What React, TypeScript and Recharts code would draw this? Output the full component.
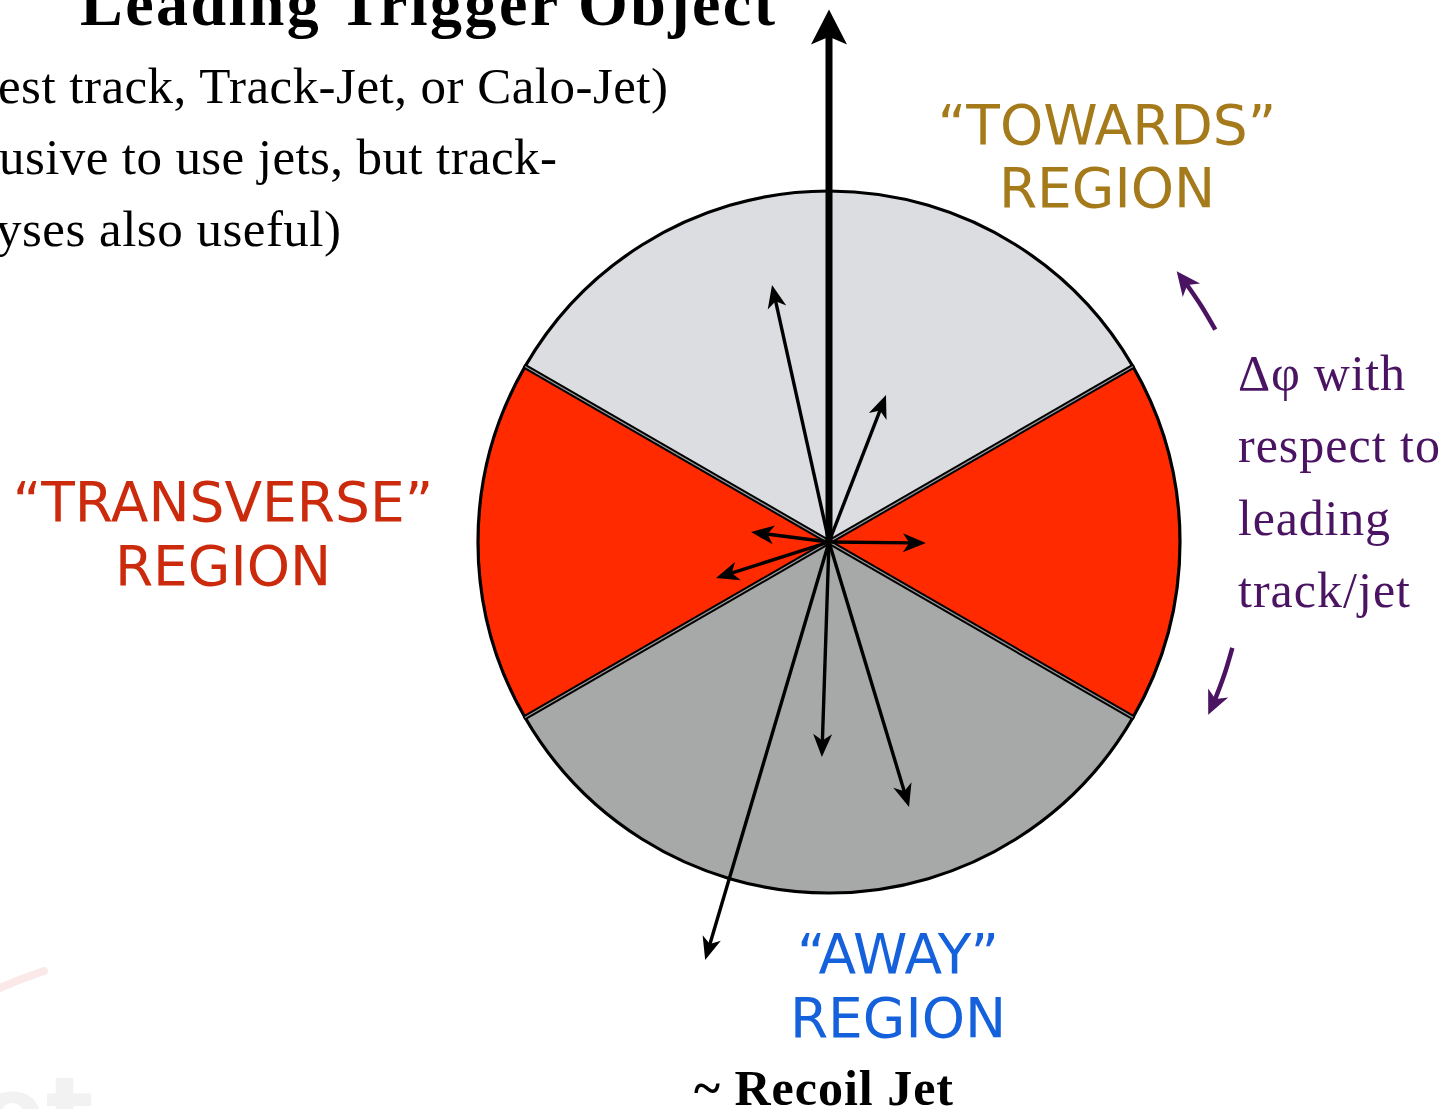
import React from "react";
import { PieChart, Pie, Cell, LineChart, Line, XAxis, YAxis, Customized } from "recharts";

// ---------- data ----------
const regionNames = ["Transverse (right)", "Towards", "Transverse (left)", "Away"];
const regionSpans = [60, 120, 60, 120]; // degrees of azimuth
const regionFills = ["#ff2a00", "#dcdde0", "#ff2a00", "#a6a9a8"];
const regionStartAngle = -30;
const boundaryAngles = [30, 150, 210, 330];

const leadingAngle = 90;
const leadingLength = 1.517; // in units of circle radius
const trackAngles = [102.5, 68.8, 172.7, 197.7, -0.6, 268.1, 286.8, 253.5];
const trackLengths = [0.75, 0.449, 0.224, 0.338, 0.276, 0.613, 0.789, 1.242];

const dphiArcRadii = [1.256, 1.188];
const dphiArcFrom = [28.8, -14.7];
const dphiArcTo = [37.9, -24.5];

const titleText = "Leading Trigger Object";
const noteLines = ["est track, Track-Jet, or Calo-Jet)", "usive to use jets, but track-", "yses also useful)"];
const dphiLines = ["\u0394\u03c6 with", "respect to", "leading", "track/jet"];
const towardsLines = ["\u201cTOWARDS\u201d", "REGION"];
const transverseLines = ["\u201cTRANSVERSE\u201d", "REGION"];
const awayLines = ["\u201cAWAY\u201d", "REGION"];
const recoilText = "~ Recoil Jet";
const watermarkText = "et";

// ---------- layout ----------
const W = 1447;
const H = 1109;
const CX = 829;
const CY = 542;
const R = 351;
const SERIF = "'Liberation Serif', 'Times New Roman', serif";
const SANS = "'DejaVu Sans', Verdana, sans-serif";
const PURPLE = "#4a1462";

const regionData = regionNames.map((name, i) => ({ name, span: regionSpans[i] }));

const polar = (deg: number, r: number) => {
  const a = (deg * Math.PI) / 180;
  return { x: r * Math.cos(a), y: r * Math.sin(a) };
};

function headPath(tx: number, ty: number, angDeg: number, L: number, Wd: number, notch: number) {
  const a = (angDeg * Math.PI) / 180;
  const dx = Math.cos(a);
  const dy = -Math.sin(a);
  const nx = -dy;
  const ny = dx;
  const bx = tx - L * dx;
  const by = ty - L * dy;
  const p1x = bx + (nx * Wd) / 2;
  const p1y = by + (ny * Wd) / 2;
  const p2x = bx - (nx * Wd) / 2;
  const p2y = by - (ny * Wd) / 2;
  const mx = tx - notch * L * dx;
  const my = ty - notch * L * dy;
  return `M${tx},${ty}L${p1x},${p1y}L${mx},${my}L${p2x},${p2y}Z`;
}

const makeHead =
  (angDeg: number, L: number, Wd: number, notch: number, color: string, forward: number, lastIndex: number) =>
  (props: any) => {
    const { cx, cy, index } = props;
    if (index !== lastIndex || cx == null || cy == null) return <g key={`h-${index}`} />;
    const a = (angDeg * Math.PI) / 180;
    const tx = cx + forward * Math.cos(a);
    const ty = cy - forward * Math.sin(a);
    return <path key={`h-${index}`} d={headPath(tx, ty, angDeg, L, Wd, notch)} fill={color} stroke="none" />;
  };

const THIN_L = 23;
const THIN_W = 19;
const THICK_L = 35;
const THICK_W = 36;
const ARC_L = 24;
const ARC_W = 22;

function Annotations() {
  return (
    <g>
      <path d="M-5,990 Q20,979 44,971" stroke="#fbe9e9" strokeWidth={8} fill="none" strokeLinecap="round" />
      <text x={-22} y={1148} fontFamily={SANS} fontWeight="bold" fontSize={100} fill="#f2f2f2">
        {watermarkText}
      </text>
      <text x={80} y={25} fontFamily={SERIF} fontWeight="bold" fontSize={64} fill="#000" textLength={695} lengthAdjust="spacing">
        {titleText}
      </text>
      {noteLines.map((t, i) => (
        <text
          key={t}
          x={[-2, -1, -4][i]}
          y={[103, 174, 246][i]}
          fontFamily={SERIF}
          fontSize={51}
          fill="#000"
          textLength={[670, 558, 345][i]}
          lengthAdjust="spacing"
        >
          {t}
        </text>
      ))}
      {towardsLines.map((t, i) => (
        <text key={"tw" + i} x={1107} y={[144, 207][i]} textAnchor="middle" fontFamily={SANS} fontSize={55} fill="#a57a1b">
          {t}
        </text>
      ))}
      {transverseLines.map((t, i) => (
        <text key={"tr" + i} x={223} y={[521, 585][i]} textAnchor="middle" fontFamily={SANS} fontSize={55} fill="#cc2a0c">
          {t}
        </text>
      ))}
      {awayLines.map((t, i) => (
        <text key={"aw" + i} x={898} y={[973, 1037][i]} textAnchor="middle" fontFamily={SANS} fontSize={55} fill="#1561dc">
          {t}
        </text>
      ))}
      {dphiLines.map((t, i) => (
        <text
          key={"dp" + i}
          x={1238}
          y={[390, 462, 535, 607][i]}
          fontFamily={SERIF}
          fontSize={50}
          fill={PURPLE}
          textLength={[167, 202, 152, 172][i]}
          lengthAdjust="spacing"
        >
          {t}
        </text>
      ))}
      <text x={694} y={1105} fontFamily={SERIF} fontWeight="bold" fontSize={50} fill="#000" textLength={259} lengthAdjust="spacing">
        {recoilText}
      </text>
    </g>
  );
}

export default function App() {
  const xDomain = [-CX / R, (W - CX) / R];
  const yDomain = [-(H - CY) / R, CY / R];

  const boundaryData = boundaryAngles.map((a) => [{ x: 0, y: 0 }, polar(a, 1)]);

  const thinForward = 0.6 * THIN_L;
  const trackData = trackAngles.map((a, i) => [{ x: 0, y: 0 }, polar(a, trackLengths[i] - thinForward / R)]);
  const thickForward = 0.7 * THICK_L;
  const leadingData = [{ x: 0, y: 0 }, polar(leadingAngle, leadingLength - thickForward / R)];

  const arcForward = 0.6 * ARC_L;
  const arcData = dphiArcRadii.map((r, i) => {
    const dir = dphiArcTo[i] > dphiArcFrom[i] ? 1 : -1;
    const endAng = dphiArcTo[i] - (dir * (arcForward / (r * R)) * 180) / Math.PI;
    const midAng = (dphiArcFrom[i] + endAng) / 2;
    return [polar(dphiArcFrom[i], r), polar(midAng, r), polar(endAng, r)];
  });

  return (
    <div style={{ position: "absolute", left: 0, top: 0, width: W, height: H, overflow: "hidden", background: "#fff" }}>
      <div style={{ position: "absolute", left: 0, top: 0 }}>
        <PieChart width={W} height={H} margin={{ top: 0, right: 0, bottom: 0, left: 0 }}>
          <Pie
            data={regionData}
            dataKey="span"
            nameKey="name"
            cx={CX}
            cy={CY}
            innerRadius={0}
            outerRadius={R}
            startAngle={regionStartAngle}
            endAngle={regionStartAngle + 360}
            paddingAngle={0}
            stroke="#000"
            strokeWidth={3.2}
            isAnimationActive={false}
            label={false}
            labelLine={false}
          >
            {regionData.map((d, i) => (
              <Cell key={d.name} fill={regionFills[i]} />
            ))}
          </Pie>
        </PieChart>
      </div>
      <div style={{ position: "absolute", left: 0, top: 0 }}>
        <LineChart width={W} height={H} margin={{ top: 0, right: 0, bottom: 0, left: 0 }}>
          <XAxis dataKey="x" type="number" domain={xDomain} hide allowDataOverflow />
          <YAxis dataKey="y" type="number" domain={yDomain} hide allowDataOverflow />
          {boundaryData.map((d, i) => (
            <Line key={"bk" + i} data={d} dataKey="y" type="linear" stroke="#000" strokeWidth={5.2} dot={false} activeDot={false} isAnimationActive={false} />
          ))}
          {boundaryData.map((d, i) => (
            <Line key={"bg" + i} data={d} dataKey="y" type="linear" stroke="#9a9a9a" strokeWidth={1.3} dot={false} activeDot={false} isAnimationActive={false} />
          ))}
          {trackData.map((d, i) => (
            <Line
              key={"tr" + i}
              data={d}
              dataKey="y"
              type="linear"
              stroke="#000"
              strokeWidth={3.4}
              dot={makeHead(trackAngles[i], THIN_L, THIN_W, 0.72, "#000", thinForward, 1)}
              activeDot={false}
              isAnimationActive={false}
            />
          ))}
          <Line
            data={leadingData}
            dataKey="y"
            type="linear"
            stroke="#000"
            strokeWidth={7}
            dot={makeHead(leadingAngle, THICK_L, THICK_W, 0.78, "#000", thickForward, 1)}
            activeDot={false}
            isAnimationActive={false}
          />
          {arcData.map((d, i) => {
            const dir = dphiArcTo[i] > dphiArcFrom[i] ? 1 : -1;
            return (
              <Line
                key={"arc" + i}
                data={d}
                dataKey="y"
                type="natural"
                stroke={PURPLE}
                strokeWidth={4.5}
                dot={makeHead(dphiArcTo[i] + dir * 90, ARC_L, ARC_W, 0.72, PURPLE, arcForward, 2)}
                activeDot={false}
                isAnimationActive={false}
              />
            );
          })}
          <Customized component={Annotations} />
        </LineChart>
      </div>
    </div>
  );
}
